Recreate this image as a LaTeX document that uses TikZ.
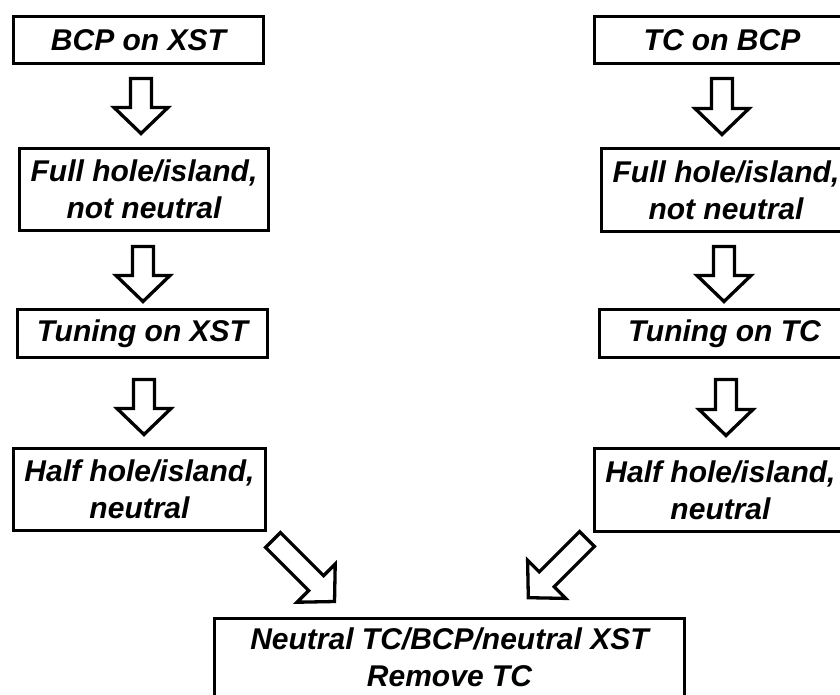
\documentclass[tikz,border=0pt]{standalone}
\usepackage{fontspec}
\setmainfont{Liberation Sans}
\begin{document}
\begin{tikzpicture}[x=1pt,y=-1pt,
  box/.style={draw, line width=3.3pt, font=\fontsize{30}{37}\selectfont\bfseries\itshape, align=center, inner sep=0pt},
  blk/.style={draw, line width=3.3pt, fill=white, line join=miter},
  pics/barrow/.style={code={\draw[blk] (-10.5,0) -- (10.5,0) -- (10.5,#1-26) -- (27,#1-26) -- (0,#1) -- (-27,#1-26) -- (-10.5,#1-26) -- cycle;}}]
\useasboundingbox (0,0) rectangle (840,695);
\clip (0,0) rectangle (840,695);
% left column
\node[box, minimum width=250pt, minimum height=47pt] (l1) at (138.5,40) {BCP on XST};
\node[box, minimum width=249pt, minimum height=82pt] (l2) at (144,189.5) {Full hole/island,\\not neutral};
\node[box, minimum width=250pt, minimum height=48pt] (l3) at (142.5,333.5) {Tuning on XST};
\node[box, minimum width=252pt, minimum height=82pt] (l4) at (139.5,489.5) {Half hole/island,\\neutral};
% right column
\node[box, minimum width=255pt, minimum height=47pt] (r1) at (722,40) {TC on BCP};
\node[box, minimum width=249pt, minimum height=83pt] (r2) at (726,190) {Full hole/island,\\not neutral};
\node[box, minimum width=250pt, minimum height=48pt] (r3) at (724.5,333.5) {Tuning on TC};
\node[box, minimum width=252pt, minimum height=83pt] (r4) at (720.5,490) {Half hole/island,\\neutral};
% bottom
\node[box, anchor=north, minimum width=470pt, inner sep=9.5pt, text depth=40pt] (b) at (449.5,616.5) {Neutral TC/BCP/neutral XST\\Remove TC};
% block arrows
\pic at (141,78.5) {barrow=55};
\pic at (143,246.5) {barrow=55};
\pic at (144,379.5) {barrow=55};
\pic at (722,78.5) {barrow=56};
\pic at (724,246.5) {barrow=55};
\pic at (726,379.5) {barrow=56};
\pic[rotate=45] at (273,540) {barrow=87};
\pic[rotate=-45] at (587,539) {barrow=83};
\end{tikzpicture}
\end{document}
